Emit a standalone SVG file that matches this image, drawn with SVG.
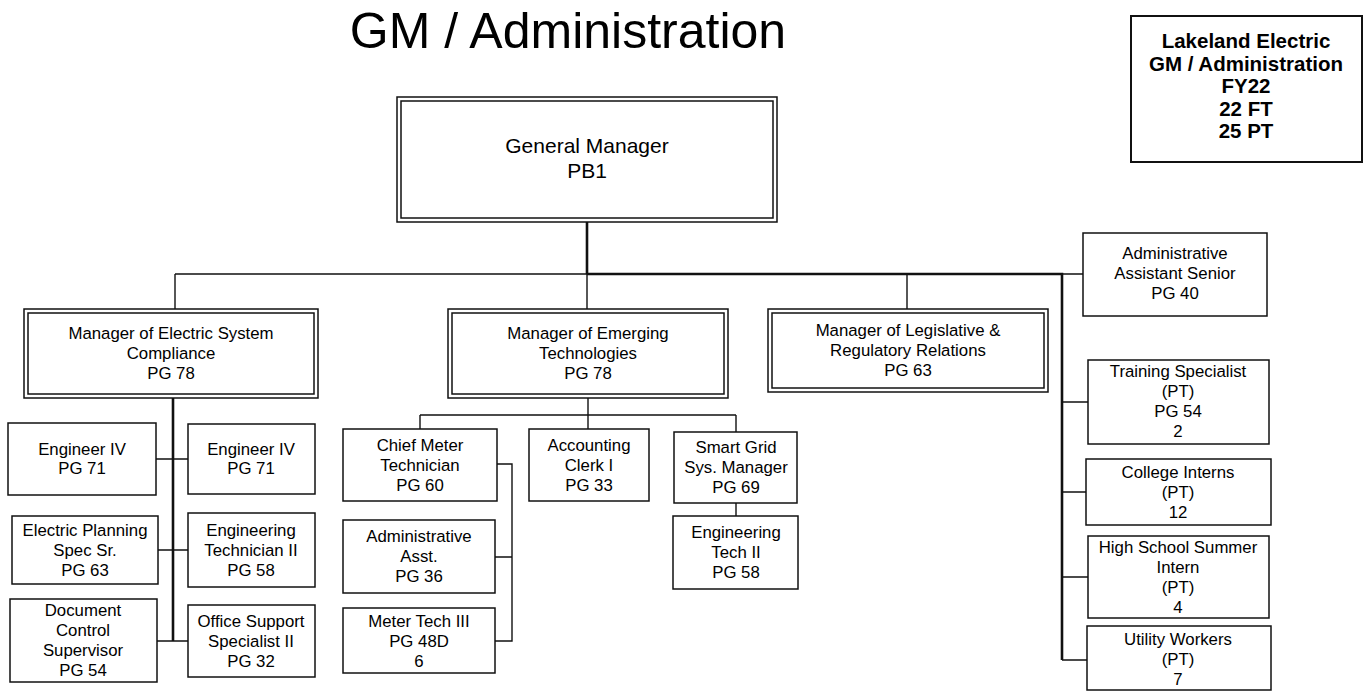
<svg xmlns="http://www.w3.org/2000/svg" width="1364" height="694" viewBox="0 0 1364 694">
<style>
.bx{fill:#fff;stroke:#111;stroke-width:1.5}
.tx{font-family:"Liberation Sans",Arial,sans-serif;font-size:16.8px;fill:#000;text-anchor:middle}
.gm{font-size:21px}
.bold{font-family:"Liberation Sans",Arial,sans-serif;font-size:20.5px;font-weight:bold;fill:#000;text-anchor:middle}
.title{font-family:"Liberation Sans",Arial,sans-serif;font-size:50px;fill:#000;text-anchor:middle}
.thin{fill:none;stroke:#111;stroke-width:1.4}
.thick{fill:none;stroke:#111;stroke-width:2.6}
</style>
<rect width="1364" height="694" fill="#fff"/>
<text class="title" x="568" y="48">GM / Administration</text>

<g id="connectors">
<path class="thin" d="M175,274 H587 M175,274 V309 M587,274 V309 M907,274 V309 M1062,274 H1083"/>
<path class="thick" d="M587,222 V274 M587,274 H1062 V660"/>
<path class="thin" d="M1062,402 H1088 M1062,492 H1086 M1062,577 H1088 M1062,660 H1087"/>
<path class="thick" d="M173,398 V641"/>
<path class="thin" d="M156,459 H188 M158,550 H188 M157,641 H188"/>
<path class="thin" d="M588,398 V429 M420,415 H736 M420,415 V429 M736,415 V432 M736,503 V516"/>
<path class="thin" d="M497,464 H512 V641 H495 M495,557 H512"/>
</g>

<g id="info">
<rect x="1131" y="16" width="231" height="146" fill="#fff" stroke="#111" stroke-width="2"/>
<text class="bold" x="1246" y="48">Lakeland Electric</text>
<text class="bold" x="1246" y="70.5">GM / Administration</text>
<text class="bold" x="1246" y="93">FY22</text>
<text class="bold" x="1246" y="115.5">22 FT</text>
<text class="bold" x="1246" y="138">25 PT</text>
</g>

<g id="general-manager">
<rect class="bx" x="397" y="97" width="380" height="125"/>
<rect class="bx" x="401" y="101" width="372" height="117"/>
<text class="tx gm" x="587" y="153">General Manager</text>
<text class="tx gm" x="587" y="178">PB1</text>
</g>

<g id="mgr-compliance">
<rect class="bx" x="24" y="309" width="294" height="89"/>
<rect class="bx" x="28" y="313" width="286" height="81"/>
<text class="tx" x="171" y="339">Manager of Electric System</text>
<text class="tx" x="171" y="359">Compliance</text>
<text class="tx" x="171" y="379">PG 78</text>
</g>

<g id="mgr-emerging">
<rect class="bx" x="448" y="309" width="280" height="89"/>
<rect class="bx" x="452" y="313" width="272" height="81"/>
<text class="tx" x="588" y="339">Manager of Emerging</text>
<text class="tx" x="588" y="359">Technologies</text>
<text class="tx" x="588" y="379">PG 78</text>
</g>

<g id="mgr-legislative">
<rect class="bx" x="768" y="309" width="280" height="83"/>
<rect class="bx" x="772" y="313" width="272" height="75"/>
<text class="tx" x="908" y="336">Manager of Legislative &amp;</text>
<text class="tx" x="908" y="356">Regulatory Relations</text>
<text class="tx" x="908" y="376">PG 63</text>
</g>

<g id="admin-senior">
<rect class="bx" x="1083" y="233" width="184" height="83"/>
<text class="tx" x="1175" y="259">Administrative</text>
<text class="tx" x="1175" y="279">Assistant Senior</text>
<text class="tx" x="1175" y="299">PG 40</text>
</g>

<g id="engineer-iv-1">
<rect class="bx" x="8" y="423" width="148" height="72"/>
<text class="tx" x="82" y="455">Engineer IV</text>
<text class="tx" x="82" y="474">PG 71</text>
</g>
<g id="engineer-iv-2">
<rect class="bx" x="188" y="424" width="127" height="70"/>
<text class="tx" x="251" y="455">Engineer IV</text>
<text class="tx" x="251" y="474">PG 71</text>
</g>
<g id="electric-planning">
<rect class="bx" x="12" y="516" width="146" height="68"/>
<text class="tx" x="85" y="536">Electric Planning</text>
<text class="tx" x="85" y="556">Spec Sr.</text>
<text class="tx" x="85" y="576">PG 63</text>
</g>
<g id="engineering-technician">
<rect class="bx" x="188" y="513" width="127" height="74"/>
<text class="tx" x="251" y="536">Engineering</text>
<text class="tx" x="251" y="556">Technician II</text>
<text class="tx" x="251" y="576">PG 58</text>
</g>
<g id="document-control">
<rect class="bx" x="10" y="599" width="147" height="83"/>
<text class="tx" x="83" y="616">Document</text>
<text class="tx" x="83" y="636">Control</text>
<text class="tx" x="83" y="656">Supervisor</text>
<text class="tx" x="83" y="676">PG 54</text>
</g>
<g id="office-support">
<rect class="bx" x="188" y="605" width="127" height="72"/>
<text class="tx" x="251" y="627">Office Support</text>
<text class="tx" x="251" y="647">Specialist II</text>
<text class="tx" x="251" y="667">PG 32</text>
</g>

<g id="chief-meter">
<rect class="bx" x="343" y="429" width="154" height="72"/>
<text class="tx" x="420" y="451">Chief Meter</text>
<text class="tx" x="420" y="471">Technician</text>
<text class="tx" x="420" y="491">PG 60</text>
</g>
<g id="accounting-clerk">
<rect class="bx" x="529" y="429" width="120" height="72"/>
<text class="tx" x="589" y="451">Accounting</text>
<text class="tx" x="589" y="471">Clerk I</text>
<text class="tx" x="589" y="491">PG 33</text>
</g>
<g id="smart-grid">
<rect class="bx" x="674" y="432" width="123" height="71"/>
<text class="tx" x="736" y="453">Smart Grid</text>
<text class="tx" x="736" y="473">Sys. Manager</text>
<text class="tx" x="736" y="493">PG 69</text>
</g>
<g id="engineering-tech-ii">
<rect class="bx" x="673" y="516" width="125" height="73"/>
<text class="tx" x="736" y="538">Engineering</text>
<text class="tx" x="736" y="558">Tech II</text>
<text class="tx" x="736" y="578">PG 58</text>
</g>
<g id="admin-asst">
<rect class="bx" x="343" y="520" width="152" height="73"/>
<text class="tx" x="419" y="542">Administrative</text>
<text class="tx" x="419" y="562">Asst.</text>
<text class="tx" x="419" y="582">PG 36</text>
</g>
<g id="meter-tech-iii">
<rect class="bx" x="343" y="608" width="152" height="65"/>
<text class="tx" x="419" y="627">Meter Tech III</text>
<text class="tx" x="419" y="647">PG 48D</text>
<text class="tx" x="419" y="667">6</text>
</g>

<g id="training-specialist">
<rect class="bx" x="1088" y="360" width="181" height="84"/>
<text class="tx" x="1178" y="377">Training Specialist</text>
<text class="tx" x="1178" y="397">(PT)</text>
<text class="tx" x="1178" y="417">PG 54</text>
<text class="tx" x="1178" y="437">2</text>
</g>
<g id="college-interns">
<rect class="bx" x="1086" y="459" width="185" height="66"/>
<text class="tx" x="1178" y="478">College Interns</text>
<text class="tx" x="1178" y="498">(PT)</text>
<text class="tx" x="1178" y="518">12</text>
</g>
<g id="hs-intern">
<rect class="bx" x="1088" y="536" width="181" height="82"/>
<text class="tx" x="1178" y="553">High School Summer</text>
<text class="tx" x="1178" y="573">Intern</text>
<text class="tx" x="1178" y="593">(PT)</text>
<text class="tx" x="1178" y="613">4</text>
</g>
<g id="utility-workers">
<rect class="bx" x="1087" y="626" width="184" height="64"/>
<text class="tx" x="1178" y="645">Utility Workers</text>
<text class="tx" x="1178" y="665">(PT)</text>
<text class="tx" x="1178" y="685">7</text>
</g>
</svg>
